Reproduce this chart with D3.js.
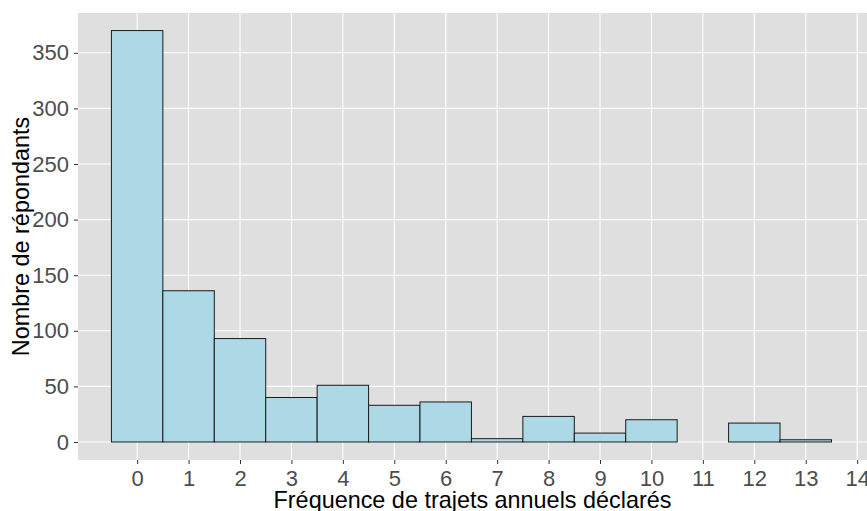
<!DOCTYPE html>
<html>
<head>
<meta charset="utf-8">
<script src="https://cdn.jsdelivr.net/npm/d3@7"></script>
<style>
  body { margin: 0; background: #fff; }
  text { font-family: "Liberation Sans", Arial, sans-serif; }
</style>
</head>
<body>
<div id="chart"></div>
<script>
// trips per year (bin centre) and number of respondents
const frequencies = [0, 1, 2, 3, 4, 5, 6, 7, 8, 9, 10, 11, 12, 13];
const counts = [370, 136, 93, 40, 51, 33, 36, 3, 23, 8, 20, 0, 17, 2];
const xTicks = d3.range(0, 15);
const yTicks = [0, 50, 100, 150, 200, 250, 300, 350];

const width = 867, height = 511;
const panel = { left: 78, right: 867, top: 13, bottom: 460 };

const svg = d3.select('#chart')
  .append('svg')
  .attr('width', width)
  .attr('height', height);

const x = d3.scaleLinear()
  .domain([-1.15, 14.2])
  .range([panel.left, panel.left + (14.2 + 1.15) * 51.43]);

const y = d3.scaleLinear()
  .domain([-16.2, 385.8])
  .range([panel.bottom, panel.top]);

svg.append('rect')
  .attr('x', panel.left)
  .attr('y', panel.top)
  .attr('width', panel.right - panel.left)
  .attr('height', panel.bottom - panel.top)
  .attr('fill', '#dfdfdf');

const grid = svg.append('g');
grid.selectAll('.hgrid')
  .data(yTicks)
  .join('line')
  .attr('x1', panel.left).attr('x2', panel.right)
  .attr('y1', d => y(d)).attr('y2', d => y(d))
  .attr('stroke', '#fff').attr('stroke-width', 1.1);
grid.selectAll('.vgrid')
  .data(xTicks)
  .join('line')
  .attr('x1', d => x(d)).attr('x2', d => x(d))
  .attr('y1', panel.top).attr('y2', panel.bottom)
  .attr('stroke', '#fff').attr('stroke-width', 1.1);

svg.append('g')
  .selectAll('rect')
  .data(frequencies)
  .join('rect')
  .attr('x', (d) => x(d - 0.5))
  .attr('width', (d) => x(d + 0.5) - x(d - 0.5))
  .attr('y', (d, i) => y(counts[i]))
  .attr('height', (d, i) => y(0) - y(counts[i]))
  .attr('fill', '#add8e6')
  .attr('stroke', '#1a1a1a')
  .attr('stroke-width', 1);

const xAxis = d3.axisBottom(x).tickValues(xTicks).tickSize(4).tickPadding(6);
const gx = svg.append('g')
  .attr('transform', `translate(0,${panel.bottom})`)
  .call(xAxis);

const yAxis = d3.axisLeft(y).tickValues(yTicks).tickSize(4).tickPadding(5);
const gy = svg.append('g')
  .attr('transform', `translate(${panel.left},0)`)
  .call(yAxis);

[gx, gy].forEach(g => {
  g.select('.domain').remove();
  g.selectAll('.tick line').attr('stroke', '#333');
  g.selectAll('.tick text')
    .attr('fill', '#4d4d4d')
    .style('font-size', '22px')
    .style('font-family', '"Liberation Sans", Arial, sans-serif');
});

svg.append('text')
  .attr('x', (panel.left + panel.right) / 2)
  .attr('y', 508)
  .attr('text-anchor', 'middle')
  .style('font-size', '23.4px')
  .attr('fill', '#000')
  .text('Fréquence de trajets annuels déclarés');

svg.append('text')
  .attr('transform', `translate(29,${(panel.top + panel.bottom) / 2}) rotate(-90)`)
  .attr('text-anchor', 'middle')
  .style('font-size', '23.4px')
  .attr('fill', '#000')
  .text('Nombre de répondants');
</script>
</body>
</html>
